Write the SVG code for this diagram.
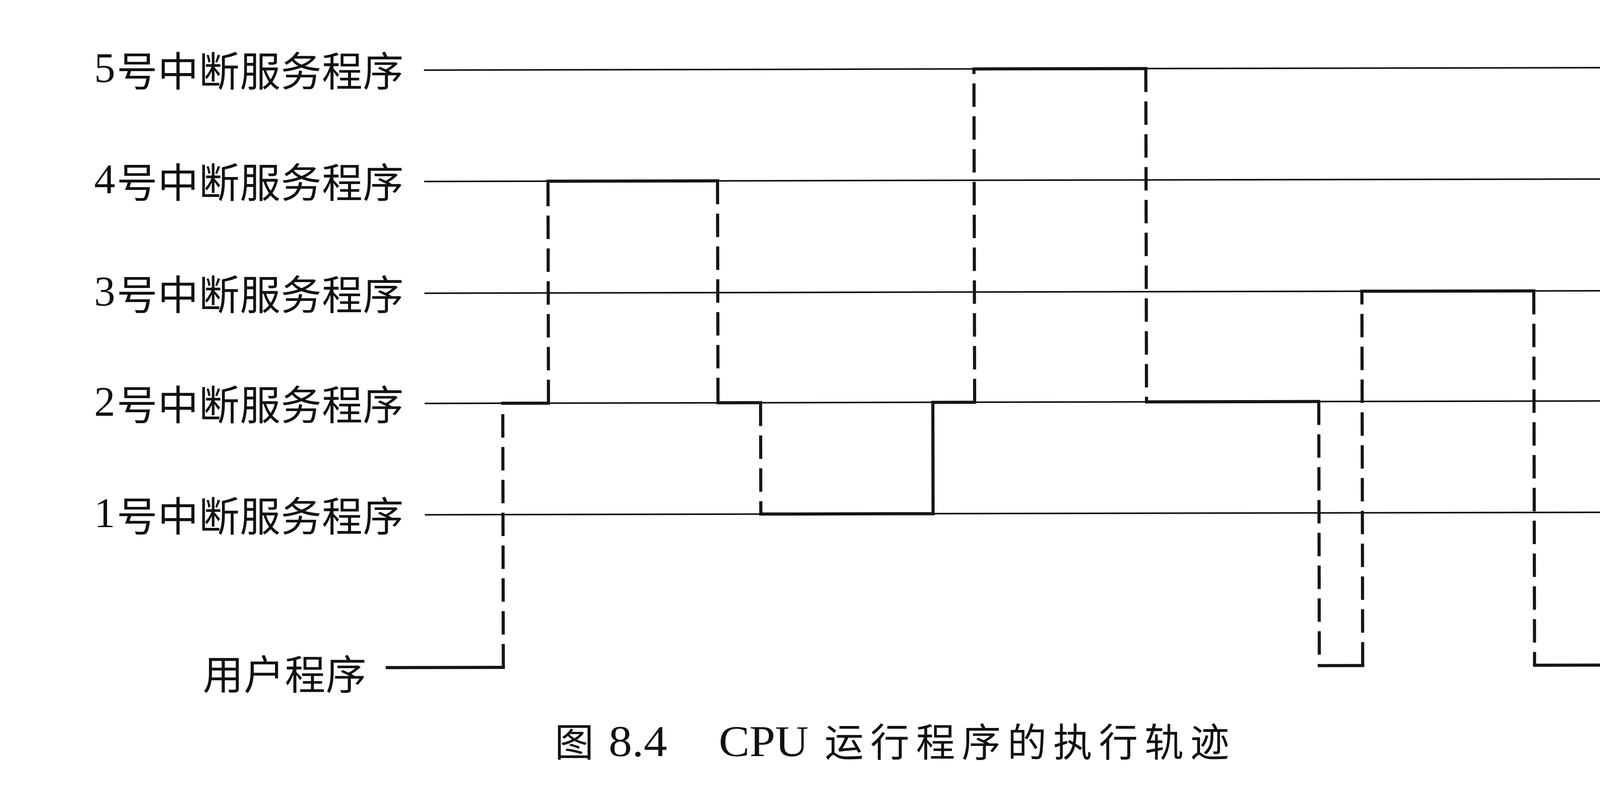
<svg xmlns="http://www.w3.org/2000/svg" width="4782" height="2009" viewBox="0 0 4782 2009">
<style>
.bg{fill:#ffffff}
.lbl{font-family:"Noto Sans CJK SC","Noto Sans CJK TC",sans-serif;font-size:104px;letter-spacing:1px;fill:#111}
.num{font-family:"Liberation Serif","Times New Roman",serif;font-size:108px;fill:#111}
.cap{font-family:"Noto Sans CJK SC",sans-serif;font-size:100px;fill:#111}
.capl{font-family:"Liberation Serif",serif;font-size:112px;fill:#111}
.lvl{stroke:#111;stroke-width:4;fill:none}
.run{stroke:#151515;stroke-width:8;fill:none;stroke-linejoin:miter;stroke-linecap:square}
.jump{stroke:#151515;stroke-width:8;fill:none;stroke-dasharray:60 24}
</style>
<rect class="bg" x="0" y="0" width="4782" height="2009"/>

<g id="level-5">
  <text><tspan class="num" x="241" y="210">5</tspan><tspan class="lbl" x="299" y="221">号中断服务程序</tspan></text>
  <line class="lvl" x1="1087" y1="176" x2="4362" y2="176" transform="rotate(-0.12 2700 1000)"/>
</g>
<g id="level-4">
  <text><tspan class="num" x="241" y="495">4</tspan><tspan class="lbl" x="299" y="506">号中断服务程序</tspan></text>
  <line class="lvl" x1="1087" y1="461" x2="4362" y2="461" transform="rotate(-0.12 2700 1000)"/>
</g>
<g id="level-3">
  <text><tspan class="num" x="241" y="782">3</tspan><tspan class="lbl" x="299" y="793">号中断服务程序</tspan></text>
  <line class="lvl" x1="1087" y1="747" x2="4362" y2="747" transform="rotate(-0.12 2700 1000)"/>
</g>
<g id="level-2">
  <text><tspan class="num" x="241" y="1064">2</tspan><tspan class="lbl" x="299" y="1075">号中断服务程序</tspan></text>
  <line class="lvl" x1="1087" y1="1029" x2="4362" y2="1029" transform="rotate(-0.12 2700 1000)"/>
</g>
<g id="level-1">
  <text><tspan class="num" x="241" y="1349">1</tspan><tspan class="lbl" x="299" y="1360">号中断服务程序</tspan></text>
  <line class="lvl" x1="1087" y1="1314" x2="4362" y2="1314" transform="rotate(-0.12 2700 1000)"/>
</g>
<g id="user-program">
  <text class="lbl" x="519" y="1765">用户程序</text>
</g>

<g id="connectors" transform="rotate(-0.12 2700 1000)">
  <path class="run" d="M990 1705 H1287"/>
  <path class="run" d="M1287 1029 H1404"/>
  <path class="run" d="M1404 461 H1838"/>
  <path class="run" d="M1838 1029 H1947"/>
  <path class="run" d="M1947 1314 H2388 V1029 H2495"/>
  <path class="run" d="M2495 176 H2935"/>
  <path class="run" d="M2935 1029 H3376"/>
  <path class="run" d="M3376 1705 H3487"/>
  <path class="run" d="M3487 747 H3927"/>
  <path class="run" d="M3927 1705 H4362"/>
  <line class="jump" x1="1287" y1="1705" x2="1287" y2="1029"/>
  <line class="jump" x1="1404" y1="1029" x2="1404" y2="461"/>
  <line class="jump" x1="1838" y1="461" x2="1838" y2="1029"/>
  <line class="jump" x1="1947" y1="1029" x2="1947" y2="1314"/>
  <line class="jump" x1="2495" y1="1029" x2="2495" y2="176"/>
  <line class="jump" x1="2935" y1="176" x2="2935" y2="1029"/>
  <line class="jump" x1="3376" y1="1029" x2="3376" y2="1705"/>
  <line class="jump" x1="3487" y1="1705" x2="3487" y2="747"/>
  <line class="jump" x1="3927" y1="747" x2="3927" y2="1705"/>
</g>

<g id="caption">
  <text class="cap" x="1420" y="1936">图</text>
  <text class="capl" x="1558" y="1935" textLength="150" lengthAdjust="spacingAndGlyphs">8.4</text>
  <text class="capl" x="1840" y="1935" textLength="230" lengthAdjust="spacingAndGlyphs">CPU</text>
  <text class="cap" x="2111" y="1936" style="letter-spacing:17px">运行程序的执行轨迹</text>
</g>
</svg>
